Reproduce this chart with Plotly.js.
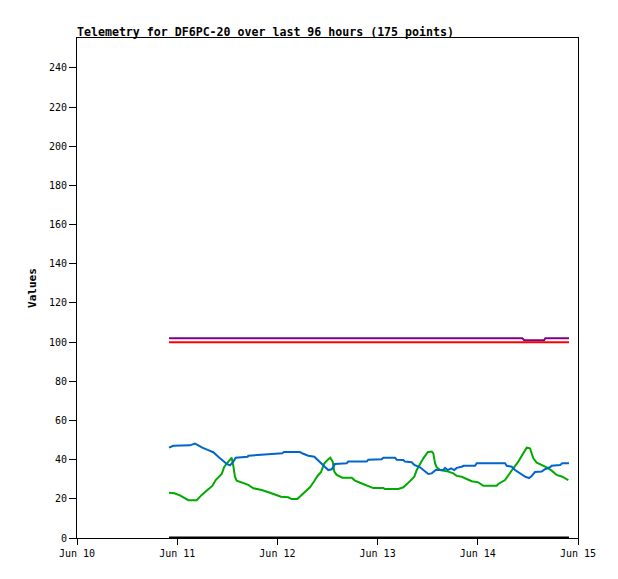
<!DOCTYPE html>
<html>
<head>
<meta charset="utf-8">
<script src="https://cdn.plot.ly/plotly-3.0.1.min.js"></script>
<style>html,body{margin:0;padding:0;background:#fff;}#chart{width:618px;height:579px;}</style>
</head>
<body>
<div id="chart"></div>
<script>
// hours since 2024-06-10 00:00
const blueHours = [22.04,23.07,27.07,28.26,29.05,30.01,31.45,32.65,33.84,35.04,35.86,36.65,37.44,38.01,40.89,41.03,45.99,49.17,49.58,53.41,54.20,55.40,56.84,57.80,58.99,60.19,61.01,61.80,64.60,64.98,69.39,69.77,72.98,73.36,76.17,76.58,78.16,78.56,80.17,80.79,82.16,83.35,84.14,84.96,85.92,87.74,88.14,88.79,89.58,90.37,90.95,92.14,92.62,94.13,95.33,95.74,102.52,102.93,104.12,104.91,106.11,107.31,108.26,108.91,109.70,111.31,112.09,113.29,113.70,115.69,116.24,117.84];
const blueValues = [46.1,47.1,47.3,48.2,47.3,46.1,44.9,43.8,41.5,39.5,37.8,37.1,39.0,41.0,41.5,42.0,42.8,43.3,43.9,43.9,43.0,42.0,41.5,39.5,36.9,34.7,35.1,37.8,38.2,39.0,39.0,40.0,40.2,41.0,41.0,40.0,39.8,39.0,38.7,37.3,36.1,34.2,32.7,33.0,34.7,34.7,35.8,34.7,35.6,34.7,35.8,36.4,36.9,36.9,36.9,38.2,38.2,36.9,36.4,34.7,33.0,31.3,30.6,31.7,33.7,33.9,35.1,36.1,36.9,37.3,38.2,38.2];

const greenHours = [22.04,23.31,24.67,25.87,26.66,28.67,29.87,31.45,32.41,33.22,34.66,35.28,36.24,37.05,37.44,37.84,38.25,39.45,41.03,42.23,44.24,46.23,47.43,48.86,50.61,51.42,52.77,53.41,54.61,55.80,56.84,57.65,58.44,59.23,60.19,60.67,61.24,61.63,62.20,63.55,65.80,66.59,67.78,69.94,70.97,73.36,73.77,76.96,78.16,79.21,80.17,80.79,81.37,82.16,82.95,84.00,84.96,85.34,85.75,86.16,86.95,88.93,90.13,90.95,92.14,92.93,94.13,94.54,96.12,97.32,100.53,100.91,102.52,103.31,104.51,105.70,106.90,107.71,108.50,109.29,110.11,111.31,112.51,113.70,114.90,116.24,117.68];
const greenValues = [23.1,22.8,21.8,20.3,19.3,19.3,22.0,24.9,26.6,29.6,32.7,36.4,39.0,41.0,36.8,31.3,29.3,28.2,27.1,25.4,24.5,23.1,22.1,21.1,20.8,19.9,19.9,21.1,23.3,25.9,29.1,31.8,33.6,38.2,40.2,41.0,39.0,33.9,32.2,30.8,30.8,29.3,28.2,26.6,25.5,25.5,25.0,25.0,25.9,27.9,30.0,31.3,34.7,37.8,40.7,43.8,44.1,43.3,38.2,36.1,34.7,33.9,33.0,31.7,31.3,30.5,29.6,29.0,28.4,26.7,26.7,27.6,29.6,32.2,35.6,39.0,43.3,46.1,45.8,40.7,38.5,37.3,36.1,34.4,32.2,31.3,29.6];

const purpleHours = [22.04,106.66,107.14,111.86,112.17,117.84];
const purpleValues = [102,102,101,101,102,102];

const redHours = [22.04,117.84];
const redValues = [100,100];

const zeroHours = [22.04,117.84];
const zeroValues = [0,0];

const titleText = 'Telemetry for DF6PC-20 over last 96 hours (175 points)';
const yTitle = 'Values';
const xTickVals = ['2024-06-10','2024-06-11','2024-06-12','2024-06-13','2024-06-14','2024-06-15'];
const xTickText = ['Jun 10','Jun 11','Jun 12','Jun 13','Jun 14','Jun 15'];
const yTickVals = [0,20,40,60,80,100,120,140,160,180,200,220,240];

function toDate(h){
  const base = Date.UTC(2024,5,10,0,0,0);
  const d = new Date(base + h*3600000);
  const p = n => String(n).padStart(2,'0');
  return d.getUTCFullYear()+'-'+p(d.getUTCMonth()+1)+'-'+p(d.getUTCDate())+' '+p(d.getUTCHours())+':'+p(d.getUTCMinutes())+':'+p(d.getUTCSeconds());
}

const mono = 'DejaVu Sans Mono, Liberation Mono, monospace';

const traces = [
  {x: zeroHours.map(toDate), y: zeroValues, mode:'lines', line:{color:'#000000', width:3}},
  {x: redHours.map(toDate), y: redValues, mode:'lines', line:{color:'#ff0000', width:2}},
  {x: purpleHours.map(toDate), y: purpleValues, mode:'lines', line:{color:'#800080', width:2, shape:'linear'}},
  {x: greenHours.map(toDate), y: greenValues, mode:'lines', line:{color:'#00aa00', width:2}},
  {x: blueHours.map(toDate), y: blueValues, mode:'lines', line:{color:'#0066cc', width:2}}
];

const layout = {
  width:618, height:579,
  margin:{l:77, r:40, t:38, b:41},
  paper_bgcolor:'#ffffff', plot_bgcolor:'#ffffff',
  showlegend:false,
  title:{text:'<b>'+titleText+'</b>', x:0, xref:'paper', xanchor:'left', y:1, yref:'paper', yanchor:'bottom', pad:{b:2}, font:{family:mono, size:11.6, color:'#000'}},
  xaxis:{
    type:'date', range:['2024-06-10','2024-06-15'],
    tickvals:xTickVals, ticktext:xTickText,
    ticks:'outside', ticklen:6, tickcolor:'#000', tickwidth:1,
    showgrid:false, zeroline:false,
    showline:true, linecolor:'#000', linewidth:1, mirror:true,
    tickfont:{family:mono, size:10, color:'#000'}
  },
  yaxis:{
    range:[0,255.3], tickvals:yTickVals,
    ticks:'outside', ticklen:7, tickcolor:'#000', tickwidth:1,
    showgrid:false, zeroline:false,
    showline:true, linecolor:'#000', linewidth:1, mirror:true,
    tickfont:{family:mono, size:10, color:'#000'},
    title:{text:'<b>'+yTitle+'</b>', font:{family:mono, size:11, color:'#000'}, standoff:10}
  }
};

Plotly.newPlot('chart', traces, layout, {staticPlot:true, displayModeBar:false});
</script>
</body>
</html>
